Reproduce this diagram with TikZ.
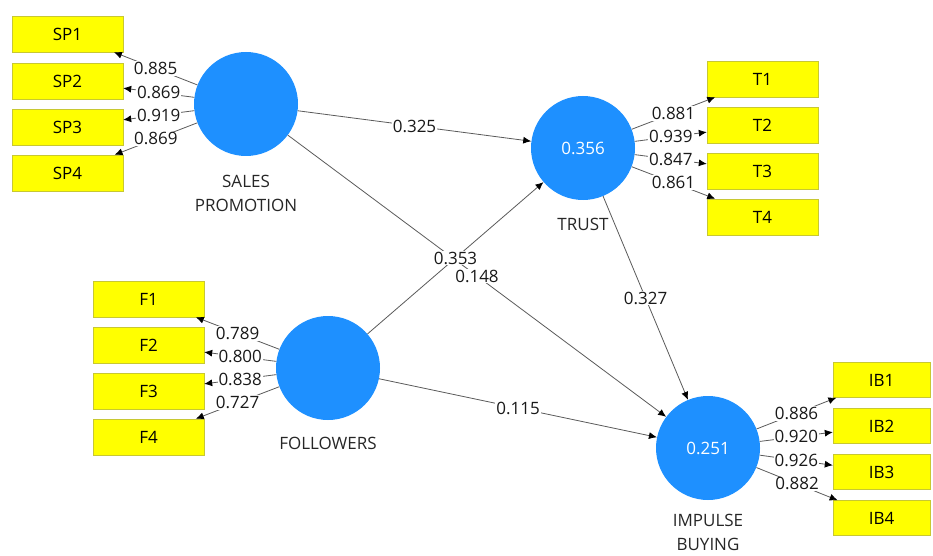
\documentclass[tikz,border=0pt]{standalone}
\usepackage{fontspec}
\setmainfont{Open Sans}
\usetikzlibrary{arrows.meta}
\definecolor{lvblue}{RGB}{30,144,255}
\definecolor{indfill}{RGB}{255,255,0}
\definecolor{indline}{RGB}{200,200,50}
\definecolor{edgegray}{RGB}{90,90,90}
\begin{document}
\begin{tikzpicture}[x=1pt,y=-1pt,
        lv/.style={circle,fill=lvblue,minimum size=104pt,inner sep=0pt,text=white,font=\fontsize{17}{20}\selectfont},
        ind/.style={rectangle,draw=indline,fill=indfill,minimum width=111pt,minimum height=36pt,inner sep=0pt,font=\fontsize{17}{20}\selectfont},
        lvname/.style={align=center,text=black!85,font=\fontsize{17}{24}\selectfont},
        ld/.style={fill=white,inner sep=1pt,text=black!90,font=\fontsize{17}{20}\selectfont},
        arr/.style={draw=edgegray,line width=0.8pt,-{Latex[length=8pt,width=7pt,color=black]}}]
        \useasboundingbox (0,0) rectangle (933,556);

        \node[lv] (sp) at (246,104) {};
        \node[lv] (tr) at (583,148) {0.356};
        \node[lv] (fo) at (328,368) {};
        \node[lv] (ib) at (708,448) {0.251};

        \node[lvname] (spname) at (246,193) {SALES\\PROMOTION};
        \node[lvname] (trname) at (583,224) {TRUST};
        \node[lvname] (foname) at (328,443) {FOLLOWERS};
        \node[lvname] (ibname) at (708,532) {IMPULSE\\BUYING};

        \foreach \i/\y in {1/34,2/81,3/127,4/173}
            \node[ind] (sp\i) at (67.5,\y) {SP\i};
        \foreach \i/\y in {1/79,2/125,3/171,4/217}
            \node[ind] (t\i) at (762.5,\y) {T\i};
        \foreach \i/\y in {1/299,2/345,3/391,4/437}
            \node[ind] (f\i) at (148.5,\y) {F\i};
        \foreach \i/\y in {1/380,2/426,3/472,4/518}
            \node[ind,minimum width=97pt,minimum height=35pt] (ib\i) at (881.5,\y) {IB\i};

        \foreach \i/\v in {1/0.885,2/0.869,3/0.919,4/0.869}
            \draw[arr] (sp) -- node[ld] {\v} (sp\i);
        \foreach \i/\v in {1/0.881,2/0.939,3/0.847,4/0.861}
            \draw[arr] (tr) -- node[ld] {\v} (t\i);
        \foreach \i/\v in {1/0.789,2/0.800,3/0.838,4/0.727}
            \draw[arr] (fo) -- node[ld] {\v} (f\i);
        \foreach \i/\v in {1/0.886,2/0.920,3/0.926,4/0.882}
            \draw[arr] (ib) -- node[ld] {\v} (ib\i);

        \draw[arr] (sp) -- node[ld] {0.325} (tr);
        \draw[arr] (sp) -- node[ld] {0.148} (ib);
        \draw[arr] (fo) -- node[ld] {0.353} (tr);
        \draw[arr] (tr) -- node[ld] {0.327} (ib);
        \draw[arr] (fo) -- node[ld] {0.115} (ib);
    \end{tikzpicture}
\end{document}
